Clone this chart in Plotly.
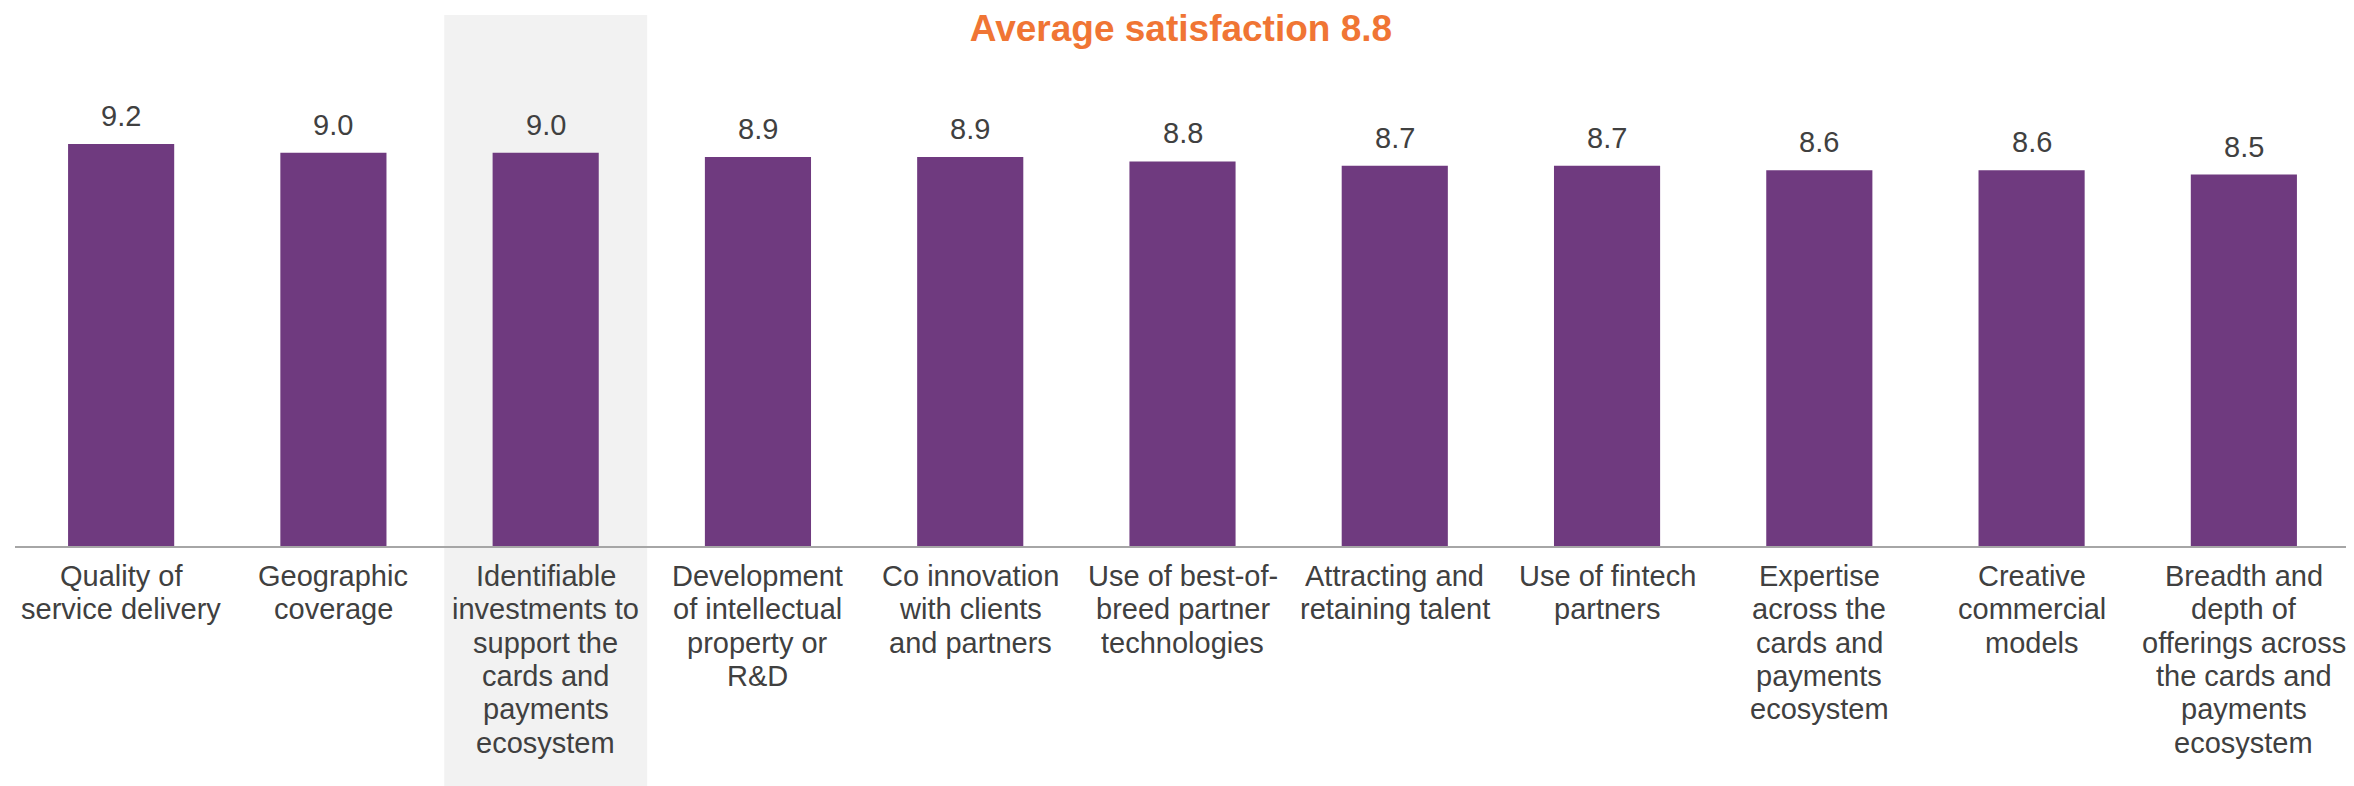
import plotly.graph_objects as go

categories = [
    "Quality of<br>service delivery",
    "Geographic<br>coverage",
    "Identifiable<br>investments to<br>support the<br>cards and<br>payments<br>ecosystem",
    "Development<br>of intellectual<br>property or<br>R&D",
    "Co innovation<br>with clients<br>and partners",
    "Use of best-of-<br>breed partner<br>technologies",
    "Attracting and<br>retaining talent",
    "Use of fintech<br>partners",
    "Expertise<br>across the<br>cards and<br>payments<br>ecosystem",
    "Creative<br>commercial<br>models",
    "Breadth and<br>depth of<br>offerings across<br>the cards and<br>payments<br>ecosystem",
]
scores = [9.2, 9.0, 9.0, 8.9, 8.9, 8.8, 8.7, 8.7, 8.6, 8.6, 8.5]
title_text = "Average satisfaction 8.8"
highlight_index = 2

font_family = "Liberation Sans, Arial, sans-serif"
text_color = "#404040"
label_size = 29
line_step = 33.3

fig = go.Figure()
fig.add_trace(go.Bar(
    x=categories,
    y=scores,
    marker_color="#6F3A7F",
    marker_line_width=0,
    hoverinfo="x+y",
))

# grey band behind the highlighted category
fig.add_shape(
    type="rect", xref="x", yref="paper",
    x0=highlight_index - 0.478, x1=highlight_index + 0.478,
    y0=-0.46, y1=1.0,
    fillcolor="#F2F2F2", line_width=0, layer="below",
)

# value labels above the bars
for cat, v in zip(categories, scores):
    fig.add_annotation(
        x=cat, y=v, xref="x", yref="y",
        text=f"{v:.1f}", showarrow=False,
        yanchor="bottom", yshift=10,
        font=dict(size=label_size, color=text_color, family=font_family),
    )

# category labels below the axis, one annotation per line (tighter leading)
for cat in categories:
    for i, line in enumerate(cat.split("<br>")):
        fig.add_annotation(
            x=cat, y=0, xref="x", yref="y",
            text=line, showarrow=False,
            yanchor="middle", yshift=-(30 + i * line_step),
            font=dict(size=label_size, color=text_color, family=font_family),
        )

fig.update_layout(
    width=2346, height=778,
    margin=dict(l=7, r=4, t=7, b=240),
    paper_bgcolor="white",
    plot_bgcolor="rgba(0,0,0,0)",
    bargap=0.5,
    showlegend=False,
    title=dict(
        text=f"<b>{title_text}</b>",
        x=0.5, xanchor="center",
        y=0.974, yanchor="middle",
        font=dict(size=37, color="#F07534", family=font_family),
    ),
)
fig.update_xaxes(
    showline=True, linecolor="#A6A6A6", linewidth=2,
    ticks="", showticklabels=False, showgrid=False,
    range=[-0.5, len(categories) - 0.5],
)
fig.update_yaxes(
    range=[0, 12.15], visible=False, showgrid=False, zeroline=False,
)

fig.write_html("out.html")
